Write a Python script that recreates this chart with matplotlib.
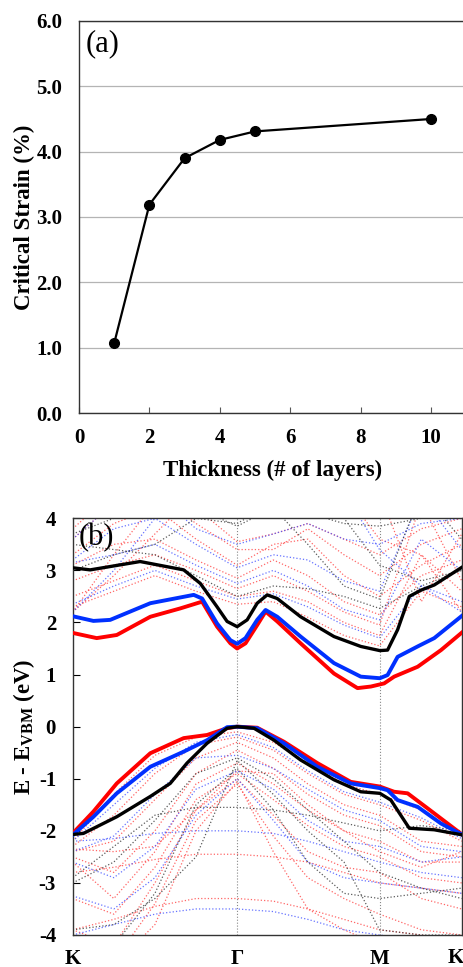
"""Critical strain vs thickness and band structure panels."""
import matplotlib
matplotlib.use('Agg')
import matplotlib.pyplot as plt
import numpy as np

plt.rcParams['font.family'] = ['Liberation Serif', 'DejaVu Serif']
plt.rcParams['font.weight'] = 'bold'
plt.rcParams['axes.unicode_minus'] = False
plt.rcParams['mathtext.fontset'] = 'custom'
plt.rcParams['mathtext.rm'] = 'Liberation Serif:bold'
plt.rcParams['mathtext.bf'] = 'Liberation Serif:bold'

# ---- panel (a) data ----
layers = [1, 2, 3, 4, 5, 10]
strain = [1.07, 3.19, 3.90, 4.18, 4.31, 4.50]

# ---- panel (b) data ----
# high-symmetry path K - Gamma - M - K (hexagonal BZ lengths 1 : 0.866 : 0.5)
sym_pos = [0.0, 1.0, 1.866, 2.366]
sym_lbl = ['K', 'Γ', 'M', 'K']

# thick bands (conduction)
k_cb_black = [0, 0.106, 0.41, 0.675, 0.776, 0.878, 0.939, 1.0, 1.061, 1.122, 1.183, 1.244,
              1.386, 1.589, 1.752, 1.868, 1.915, 1.976, 2.047, 2.118, 2.199, 2.372]
e_cb_black = [3.05, 3.01, 3.17, 3.01, 2.75, 2.30, 2.02, 1.92, 2.05, 2.37, 2.53, 2.46,
              2.11, 1.73, 1.54, 1.46, 1.47, 1.86, 2.50, 2.62, 2.72, 3.07]
k_cb_blue = [0, 0.126, 0.228, 0.472, 0.736, 0.787, 0.878, 0.959, 1.0, 1.051, 1.122, 1.173,
             1.244, 1.386, 1.589, 1.752, 1.868, 1.915, 1.976, 2.098, 2.199, 2.372]
e_cb_blue = [2.12, 2.03, 2.05, 2.37, 2.53, 2.46, 1.98, 1.66, 1.59, 1.70, 2.05, 2.24,
             2.11, 1.73, 1.22, 0.96, 0.93, 0.99, 1.34, 1.54, 1.70, 2.14]
k_cb_red = [0, 0.146, 0.268, 0.472, 0.654, 0.787, 0.878, 0.959, 1.0, 1.051, 1.122, 1.173,
            1.244, 1.386, 1.589, 1.732, 1.813, 1.894, 1.955, 2.098, 2.240, 2.372]
e_cb_red = [1.80, 1.70, 1.76, 2.11, 2.27, 2.40, 1.92, 1.60, 1.50, 1.60, 1.95, 2.21,
            2.02, 1.60, 1.02, 0.74, 0.77, 0.83, 0.96, 1.15, 1.47, 1.82]

# thick bands (valence)
k_vb_black = [0, 0.065, 0.268, 0.472, 0.593, 0.695, 0.817, 0.939, 1.0, 1.102, 1.224, 1.386,
              1.589, 1.752, 1.868, 1.935, 2.047, 2.199, 2.372]
e_vb_black = [-2.07, -2.05, -1.73, -1.34, -1.09, -0.70, -0.32, -0.03, 0.0, -0.03, -0.26,
              -0.64, -1.02, -1.25, -1.28, -1.41, -1.95, -1.98, -2.08]
k_vb_blue = [0, 0.126, 0.268, 0.472, 0.675, 0.817, 0.939, 1.0, 1.122, 1.285, 1.488, 1.691,
             1.868, 1.915, 1.976, 2.098, 2.240, 2.372]
e_vb_blue = [-2.08, -1.73, -1.28, -0.77, -0.48, -0.26, -0.01, 0.0, -0.03, -0.32, -0.77,
             -1.09, -1.18, -1.22, -1.41, -1.54, -1.86, -2.08]
k_vb_red = [0, 0.126, 0.268, 0.472, 0.675, 0.817, 0.939, 1.0, 1.122, 1.285, 1.488, 1.691,
            1.868, 1.955, 2.037, 2.159, 2.372]
e_vb_red = [-2.05, -1.63, -1.09, -0.51, -0.22, -0.16, -0.03, 0.0, -0.02, -0.29, -0.70,
            -1.06, -1.15, -1.25, -1.28, -1.57, -2.08]

# thin dotted bands, sampled at these k points
k_thin = [0.0, 0.25, 0.5, 0.75, 1.0, 1.22, 1.43, 1.65, 1.866, 2.12, 2.366]

red_thin = [
    [-2.20, -1.30, -0.55, -0.20, -0.10, -0.30, -0.70, -1.10, -1.30, -1.60, -2.10],
    [-2.30, -1.70, -0.90, -0.35, -0.20, -0.45, -0.90, -1.30, -1.50, -1.80, -2.20],
    [-2.40, -2.20, -1.40, -0.60, -0.30, -0.60, -1.10, -1.50, -1.70, -2.20, -2.30],
    [-2.50, -2.80, -2.00, -0.90, -0.45, -0.80, -1.30, -1.70, -1.90, -2.40, -2.50],
    [-2.60, -3.30, -2.40, -1.10, -0.70, -1.10, -1.60, -2.00, -2.20, -2.60, -2.60],
    [-3.30, -3.60, -2.70, -1.40, -0.90, -1.40, -1.90, -2.30, -2.50, -2.90, -3.00],
    [-3.90, -4.20, -3.00, -1.60, -1.00, -1.70, -2.40, -2.70, -2.80, -3.30, -3.50],
    [-4.20, -4.50, -3.40, -1.80, -1.10, -2.10, -2.90, -3.30, -3.60, -3.90, -4.00],
    [-4.50, -4.60, -3.80, -2.00, -1.05, -2.40, -3.50, -3.90, -4.20, -4.50, -4.50],
    [-2.80, -2.70, -2.55, -2.45, -2.45, -2.50, -2.60, -2.80, -3.00, -3.10, -3.20],
    [-3.90, -3.70, -3.45, -3.30, -3.30, -3.35, -3.50, -3.70, -3.90, -4.00, -4.10],
    [-2.35, -2.40, -2.30, -1.60, -0.85, -0.90, -1.50, -2.00, -2.40, -2.70, -2.40],
    [2.30, 2.60, 2.90, 2.60, 2.35, 2.40, 2.10, 1.75, 1.55, 2.60, 2.30],
    [2.50, 2.80, 3.10, 2.80, 2.50, 2.60, 2.40, 2.00, 1.75, 3.30, 2.60],
    [2.80, 3.10, 3.30, 3.00, 2.65, 2.90, 2.60, 2.20, 1.95, 4.30, 2.80],
    [3.10, 3.50, 3.60, 3.20, 2.85, 3.20, 2.90, 2.40, 2.15, 2.90, 3.20],
    [3.30, 3.90, 4.20, 3.60, 3.10, 3.50, 3.60, 2.90, 2.50, 3.10, 3.50],
    [3.60, 4.30, 4.50, 3.90, 3.40, 3.40, 3.80, 3.30, 2.90, 3.50, 3.80],
    [3.80, 4.50, 4.50, 4.20, 3.55, 3.70, 3.90, 3.60, 3.30, 3.80, 4.00],
    [2.20, 2.90, 3.70, 4.50, 4.50, 4.50, 4.50, 4.50, 3.60, 3.30, 2.20],
    [2.20, 3.30, 4.30, 4.50, 4.50, 4.50, 4.50, 4.50, 4.50, 2.40, 3.70],
]
blue_thin = [
    [-2.20, -1.50, -0.80, -0.30, -0.15, -0.40, -0.85, -1.25, -1.45, -1.75, -2.15],
    [-2.40, -2.10, -1.30, -0.60, -0.55, -0.80, -1.20, -1.60, -1.80, -2.30, -2.40],
    [-2.60, -2.90, -2.30, -1.20, -0.85, -1.20, -1.80, -2.20, -2.30, -2.60, -2.50],
    [-3.25, -3.50, -2.90, -1.70, -1.00, -1.80, -2.60, -2.90, -3.00, -3.10, -3.20],
    [-2.20, -2.15, -2.05, -2.00, -2.00, -2.05, -2.20, -2.40, -2.60, -2.80, -2.90],
    [-4.00, -3.80, -3.60, -3.50, -3.50, -3.55, -3.70, -3.90, -4.00, -4.10, -4.20],
    [2.35, 2.70, 3.00, 2.70, 2.45, 2.55, 2.30, 1.95, 1.70, 2.70, 2.40],
    [3.15, 3.30, 3.50, 3.10, 2.75, 3.00, 2.70, 2.25, 2.05, 3.60, 3.00],
    [3.20, 3.80, 4.00, 3.50, 3.05, 3.30, 3.20, 2.80, 2.60, 4.40, 3.40],
    [2.20, 3.00, 4.00, 4.50, 4.50, 4.50, 4.50, 4.50, 3.40, 2.70, 2.20],
    [3.60, 4.30, 4.50, 3.80, 3.50, 3.70, 3.90, 3.60, 3.50, 3.90, 4.00],
]
black_thin = [
    [-2.90, -2.30, -1.70, -1.55, -1.55, -1.60, -1.70, -1.85, -2.00, -1.90, -2.00],
    [-3.00, -2.60, -1.80, -0.90, -0.60, -1.00, -1.60, -2.20, -2.80, -3.10, -3.30],
    [-4.00, -4.20, -3.20, -1.50, -0.80, -1.60, -2.60, -3.20, -3.30, -3.20, -3.10],
    [-3.90, -3.80, -3.30, -2.50, -0.65, -1.30, -2.00, -2.60, -3.90, -4.00, -4.00],
    [3.50, 3.40, 3.30, 2.90, 2.50, 2.70, 2.65, 2.50, 2.27, 2.70, 3.00],
    [3.70, 4.00, 4.50, 4.20, 3.85, 4.20, 3.50, 2.70, 2.45, 4.50, 3.60],
    [4.50, 4.50, 4.30, 4.00, 3.90, 4.30, 4.10, 3.90, 3.85, 4.00, 4.20],
    [3.00, 3.30, 3.50, 4.00, 4.50, 4.50, 4.50, 4.00, 3.10, 2.80, 3.00],
]

fig = plt.figure(figsize=(4.64, 9.67), dpi=100)

# ========= panel (a) =========
ax = fig.add_axes([0.1703, 0.5729, 0.8345, 0.4054])
ax.plot(layers, strain, color='black', linewidth=1.6, marker='o', markersize=7, zorder=3)
ax.set_xlim(0, 11)
ax.set_ylim(0, 6)
ax.set_yticks(np.arange(0, 6.1, 1.0))
ax.set_yticklabels([f'{v:.1f}' for v in np.arange(0, 6.1, 1.0)])
ax.set_xticks([0, 2, 4, 6, 8, 10])
ax.yaxis.grid(True, color='#b4b4b4', linewidth=0.9)
ax.set_axisbelow(True)
ax.tick_params(axis='x', direction='in', length=4, width=0.8, pad=11, labelsize=15, color='#555555')
ax.tick_params(axis='y', length=0, pad=12, labelsize=15)
ax.spines['right'].set_visible(False)
for s in ['left', 'top', 'bottom']:
    ax.spines[s].set_color('#333333')
    ax.spines[s].set_linewidth(1.0)
ax.set_xlabel('Thickness (# of layers)', fontsize=16.5, fontweight='bold', labelpad=8)
ax.set_ylabel('Critical Strain (%)', fontsize=16.5, fontweight='bold', labelpad=1)
ax.text(0.018, 0.98, '(a)', transform=ax.transAxes, fontsize=22, fontweight='normal',
        ha='left', va='top')

# ========= panel (b) =========
bx = fig.add_axes([0.1567, 0.0331, 0.8384, 0.4309])
for band in red_thin:
    bx.plot(k_thin, band, color='#ff4040', linestyle=':', linewidth=0.9, alpha=0.8)
for band in blue_thin:
    bx.plot(k_thin, band, color='#4050ff', linestyle=':', linewidth=0.9, alpha=0.8)
for band in black_thin:
    bx.plot(k_thin, band, color='#333333', linestyle=':', linewidth=0.9, alpha=0.8)

for xp in sym_pos[1:3]:
    bx.axvline(xp, color='#888888', linestyle=':', linewidth=0.8)

bx.plot(k_cb_red, e_cb_red, color='#ff0000', linewidth=2.8, zorder=4)
bx.plot(k_vb_red, e_vb_red, color='#ff0000', linewidth=2.8, zorder=4)
bx.plot(k_cb_blue, e_cb_blue, color='#0030ff', linewidth=2.8, zorder=5)
bx.plot(k_vb_blue, e_vb_blue, color='#0030ff', linewidth=2.8, zorder=5)
bx.plot(k_cb_black, e_cb_black, color='black', linewidth=2.4, zorder=6)
bx.plot(k_vb_black, e_vb_black, color='black', linewidth=2.4, zorder=6)

bx.set_xlim(sym_pos[0], sym_pos[-1])
bx.set_ylim(-4, 4)
bx.set_yticks(range(-4, 5))
bx.set_xticks(sym_pos[:-1])
bx.set_xticklabels(sym_lbl[:-1])
bx.tick_params(axis='y', direction='in', length=5, width=0.8, pad=12, labelsize=15)
bx.tick_params(axis='x', length=0, pad=10, labelsize=15)
# last K label sits at the figure edge; right-align it so it stays visible
fig.text(0.999, 1 - 958 / 967, sym_lbl[-1], fontsize=15, fontweight='bold',
         ha='right', va='center')
for s in bx.spines.values():
    s.set_color('#333333')
    s.set_linewidth(1.0)
bx.set_ylabel(r'E - E$_{\rm VBM}$ (eV)', fontsize=16.5, fontweight='bold', labelpad=1)
bx.text(0.015, 0.99, '(b)', transform=bx.transAxes, fontsize=22, fontweight='normal',
        ha='left', va='top')

fig.savefig('out.png', dpi=100)
print('Saved: out.png')
